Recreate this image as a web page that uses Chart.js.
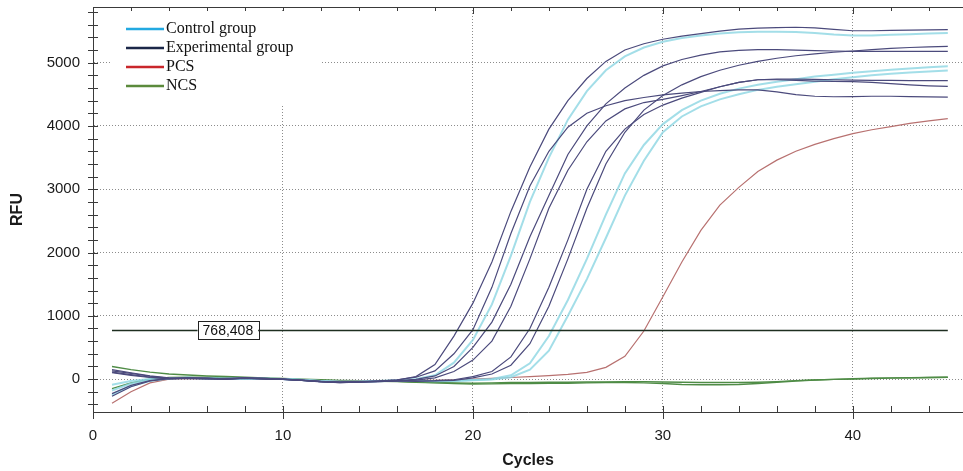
<!DOCTYPE html>
<html>
<head>
<meta charset="utf-8">
<script src="https://cdn.jsdelivr.net/npm/chart.js@4.4.1/dist/chart.umd.min.js"></script>
<style>
  body { margin: 0; background: #ffffff; }
  #wrap { width: 963px; height: 471px; position: relative; }
</style>
</head>
<body>
<div id="wrap"><canvas id="rfu-chart"></canvas></div>
<script>
const CYCLES = [1, 2, 3, 4, 5, 6, 7, 8, 9, 10, 11, 12, 13, 14, 15, 16, 17, 18, 19, 20,
  21, 22, 23, 24, 25, 26, 27, 28, 29, 30, 31, 32, 33, 34, 35, 36, 37, 38, 39, 40,
  41, 42, 43, 44, 45];

// experimental group wells
const EXP_1 = [130, 90, 45, 15, 10, 5, 10, 20, 10, 0, -15, -35, -45, -40, -30, -15,
  40, 230, 680, 1200, 1850, 2650, 3350, 3950, 4400, 4750, 5020, 5200, 5300, 5370,
  5420, 5460, 5500, 5530, 5545, 5555, 5560, 5550, 5525, 5505, 5505, 5510, 5515, 5520, 5522];
const EXP_2 = [-230, -100, -25, 10, 20, 15, 5, 15, 0, -5, -20, -40, -50, -45, -30, -10,
  30, 130, 400, 780, 1450, 2300, 3050, 3600, 3980, 4200, 4320, 4400, 4450, 4490,
  4520, 4545, 4560, 4570, 4570, 4540, 4495, 4470, 4462, 4465, 4470, 4470, 4465, 4460, 4457];
const EXP_3 = [110, 70, 30, 10, 15, 10, 0, 15, 10, 0, -20, -40, -55, -45, -35, -25,
  -5, 50, 200, 500, 900, 1500, 2250, 2900, 3550, 4000, 4350, 4600, 4800, 4950,
  5050, 5120, 5170, 5195, 5205, 5205, 5200, 5190, 5185, 5180, 5180, 5180, 5180, 5180, 5180];
const EXP_4 = [-270, -120, -30, 5, 15, 10, 0, 10, 5, -5, -20, -45, -55, -50, -40, -30,
  -15, 20, 120, 300, 600, 1150, 1900, 2700, 3300, 3750, 4080, 4270, 4370, 4420,
  4480, 4545, 4620, 4690, 4730, 4730, 4720, 4710, 4705, 4700, 4690, 4670, 4650, 4635, 4625];
const EXP_5 = [150, 100, 50, 20, 15, 10, 5, 20, 10, 0, -15, -35, -50, -45, -40, -30,
  -30, -25, -10, 40, 120, 350, 800, 1450, 2200, 3000, 3600, 3950, 4180, 4330,
  4440, 4530, 4620, 4690, 4730, 4740, 4740, 4735, 4730, 4725, 4720, 4720, 4718, 4716, 4715];
const EXP_6 = [100, 60, 25, 5, 10, 5, 0, 15, 5, -5, -20, -40, -50, -45, -35, -30,
  -35, -30, -20, 20, 80, 220, 560, 1150, 1900, 2700, 3400, 3900, 4250, 4480,
  4650, 4780, 4880, 4960, 5020, 5070, 5110, 5140, 5165, 5185, 5205, 5225, 5240, 5250, 5258];

// control group wells
const CTRL_1 = [-90, -30, 0, 15, 20, 10, 5, 10, 5, 0, -10, -30, -40, -40, -30, -20,
  0, 60, 260, 620, 1180, 1950, 2800, 3500, 4100, 4550, 4880, 5100, 5240, 5330,
  5390, 5430, 5460, 5480, 5490, 5490, 5485, 5470, 5445, 5430, 5430, 5440, 5450, 5460, 5470];
const CTRL_2 = [-250, -110, -30, 10, 20, 15, 5, 10, 5, 0, -15, -35, -45, -40, -35, -25,
  -30, -30, -25, -15, 0, 60, 250, 680, 1250, 1900, 2600, 3250, 3700, 4030,
  4250, 4400, 4510, 4590, 4650, 4700, 4740, 4780, 4810, 4840, 4865, 4890, 4910, 4928, 4942];
const CTRL_3 = [-180, -70, -10, 15, 20, 10, 5, 10, 5, 0, -15, -30, -40, -40, -30, -25,
  -30, -35, -30, -20, -5, 30, 150, 450, 1000, 1580, 2230, 2900, 3450, 3900,
  4150, 4310, 4420, 4500, 4570, 4620, 4660, 4700, 4740, 4770, 4800, 4825, 4845, 4862, 4878];

// positive / negative control samples
const PCS_1 = [-380, -200, -60, 0, 10, 5, 0, 10, 5, 0, -10, -25, -35, -30, -25, -20,
  -20, -20, -10, 0, 10, 25, 40, 55, 75, 105, 185, 360, 760, 1300,
  1850, 2350, 2750, 3030, 3280, 3460, 3600, 3710, 3800, 3880, 3940, 3990, 4040, 4080, 4115];
const NCS_1 = [200, 150, 110, 80, 65, 50, 40, 30, 20, 10, 0, -10, -20, -25, -30, -35,
  -45, -55, -60, -65, -60, -55, -55, -50, -50, -45, -45, -40, -40, -45,
  -50, -55, -55, -55, -50, -40, -25, -15, -5, 0, 10, 15, 20, 25, 30];
const NCS_2 = [-150, -60, 0, 25, 30, 25, 20, 15, 10, 0, -10, -20, -25, -30, -35, -40,
  -50, -60, -70, -80, -75, -70, -70, -65, -65, -60, -55, -55, -60, -70,
  -85, -90, -90, -85, -70, -50, -30, -15, -5, 5, 15, 20, 22, 25, 30];

const THRESHOLD = 768.408;
const THRESHOLD_LABEL = "768,408";

const X_TICKS = [0, 10, 20, 30, 40];
const Y_TICKS = [0, 1000, 2000, 3000, 4000, 5000];

const GROUPS = {
  exp:  { label: "Experimental group", legendColor: "#1b2748", line: "#4b4a7c", width: 1.2, curves: [EXP_1, EXP_2, EXP_3, EXP_4, EXP_5, EXP_6] },
  ctrl: { label: "Control group",      legendColor: "#22a9e1", line: "rgba(140,214,226,0.8)", width: 2, curves: [CTRL_1, CTRL_2, CTRL_3] },
  pcs:  { label: "PCS",                legendColor: "#c9262b", line: "#b87170", width: 1.2, curves: [PCS_1] },
  ncs:  { label: "NCS",                legendColor: "#5b8a3c", line: "#4f8c46", width: 1.4, curves: [NCS_1, NCS_2] },
};
const LEGEND_ORDER = ["ctrl", "exp", "pcs", "ncs"];

const FONT = "'Liberation Sans', Arial, sans-serif";

function toPoints(values) {
  return values.map((v, i) => ({ x: CYCLES[i], y: v }));
}

function buildDatasets() {
  const sets = [{
    label: "Threshold",
    data: [{ x: CYCLES[0], y: THRESHOLD }, { x: CYCLES[CYCLES.length - 1], y: THRESHOLD }],
    borderColor: "#1e2e20",
    borderWidth: 1.5,
  }];
  ["exp", "ctrl", "pcs", "ncs"].forEach((key) => {
    const g = GROUPS[key];
    g.curves.forEach((values) => {
      sets.push({
        label: g.label,
        data: toPoints(values),
        borderColor: g.line,
        borderWidth: g.width,
      });
    });
  });
  return sets;
}

// tick marks crossing the axes and the top frame, like the instrument software
const frameTicks = {
  id: "frameTicks",
  afterDatasetsDraw(chart) {
    const { ctx, chartArea } = chart;
    const xs = chart.scales.x;
    const ys = chart.scales.y;
    ctx.save();
    ctx.strokeStyle = "#3a3a3a";
    ctx.lineWidth = 1;
    ctx.beginPath();
    ctx.moveTo(chartArea.left, chartArea.top + 0.5);
    ctx.lineTo(chartArea.right, chartArea.top + 0.5);
    for (let v = 0; v <= xs.max; v += 2) {
      const px = Math.round(xs.getPixelForValue(v)) + 0.5;
      const major = v % 10 === 0;
      ctx.moveTo(px, chartArea.bottom - 6);
      ctx.lineTo(px, chartArea.bottom + (major ? 7 : 0));
      ctx.moveTo(px, chartArea.top);
      ctx.lineTo(px, chartArea.top + (major ? 7 : 4));
    }
    for (let v = -400; v <= ys.max; v += 200) {
      const py = Math.round(ys.getPixelForValue(v)) + 0.5;
      ctx.moveTo(chartArea.left - 5, py);
      ctx.lineTo(chartArea.left + 5, py);
    }
    ctx.stroke();
    ctx.restore();
  }
};

const thresholdLabel = {
  id: "thresholdLabel",
  afterDatasetsDraw(chart) {
    const { ctx } = chart;
    const cx = chart.scales.x.getPixelForValue(7.1);
    const cy = chart.scales.y.getPixelForValue(THRESHOLD);
    ctx.save();
    ctx.font = "14px " + FONT;
    const w = ctx.measureText(THRESHOLD_LABEL).width + 10;
    const h = 18;
    ctx.fillStyle = "#ffffff";
    ctx.fillRect(cx - w / 2, cy - h / 2, w, h);
    ctx.strokeStyle = "#222";
    ctx.lineWidth = 1;
    ctx.strokeRect(Math.round(cx - w / 2) + 0.5, Math.round(cy - h / 2) + 0.5, Math.round(w), h);
    ctx.fillStyle = "#111";
    ctx.textAlign = "center";
    ctx.textBaseline = "middle";
    ctx.fillText(THRESHOLD_LABEL, cx, cy + 1);
    ctx.restore();
  }
};

const groupLegend = {
  id: "groupLegend",
  afterDraw(chart) {
    const { ctx, chartArea } = chart;
    const x0 = chartArea.left + 33;
    const y0 = chartArea.top + 22;
    ctx.save();
    ctx.fillStyle = "#ffffff";
    ctx.fillRect(chartArea.left + 17, chartArea.top + 4, 212, 94);
    ctx.font = "16px 'Liberation Serif', 'Times New Roman', serif";
    ctx.textBaseline = "middle";
    LEGEND_ORDER.forEach((key, i) => {
      const y = y0 + i * 19;
      ctx.strokeStyle = GROUPS[key].legendColor;
      ctx.lineWidth = 2.5;
      ctx.beginPath();
      ctx.moveTo(x0, y);
      ctx.lineTo(x0 + 38, y);
      ctx.stroke();
      ctx.fillStyle = "#111";
      ctx.fillText(GROUPS[key].label, x0 + 40, y);
    });
    ctx.restore();
  }
};

const gridColor = (ctx) => (ctx.tick && ctx.tick.value !== 0 ? "#8c8c8c" : "rgba(0,0,0,0)");

new Chart(document.getElementById("rfu-chart"), {
  type: "line",
  data: { datasets: buildDatasets() },
  plugins: [frameTicks, thresholdLabel, groupLegend],
  options: {
    responsive: true,
    maintainAspectRatio: false,
    animation: false,
    layout: { padding: { top: 7, right: 0, left: 0, bottom: 0 } },
    elements: {
      point: { radius: 0 },
      line: { tension: 0, fill: false },
    },
    plugins: {
      legend: { display: false },
      tooltip: { enabled: false },
    },
    scales: {
      x: {
        type: "linear",
        min: 0,
        max: 45.8,
        afterBuildTicks: (scale) => { scale.ticks = X_TICKS.map((v) => ({ value: v })); },
        afterFit: (scale) => {
          scale.height = 59;
          scale.paddingLeft = 0;
          scale.paddingRight = 0;
        },
        ticks: { color: "#1a1a1a", font: { family: FONT, size: 15 }, padding: 15, maxRotation: 0 },
        grid: { color: gridColor, drawTicks: false, lineWidth: 1 },
        border: { display: true, color: "#3a3a3a", width: 1, dash: [1, 2] },
        title: {
          display: true,
          text: "Cycles",
          color: "#1a1a1a",
          font: { family: FONT, size: 16, weight: "bold" },
          padding: { top: 0, bottom: 1 },
        },
      },
      y: {
        type: "linear",
        min: -520,
        max: 5880,
        afterBuildTicks: (scale) => { scale.ticks = Y_TICKS.map((v) => ({ value: v })); },
        afterFit: (scale) => {
          scale.width = 93;
          scale.paddingTop = 0;
          scale.paddingBottom = 0;
        },
        ticks: {
          color: "#1a1a1a",
          font: { family: FONT, size: 15 },
          padding: 13,
          callback: (value) => String(value),
        },
        grid: { color: (ctx) => (ctx.tick ? "#8c8c8c" : "rgba(0,0,0,0)"), drawTicks: false, lineWidth: 1 },
        border: { display: true, color: "#3a3a3a", width: 1, dash: [1, 2] },
        title: {
          display: true,
          text: "RFU",
          color: "#1a1a1a",
          font: { family: FONT, size: 16, weight: "bold" },
          padding: { top: 8, bottom: 0 },
        },
      },
    },
  },
});
</script>
</body>
</html>
